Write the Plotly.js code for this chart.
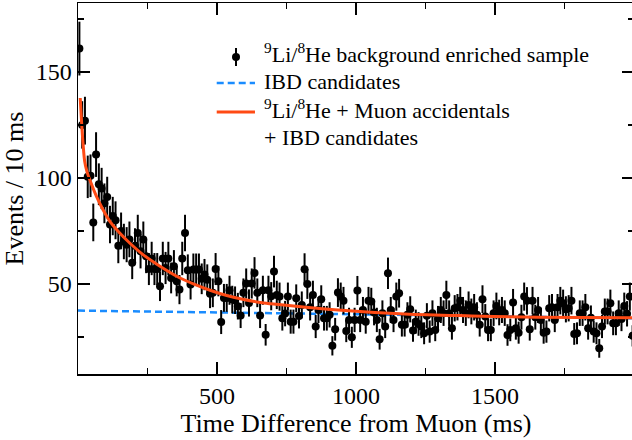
<!DOCTYPE html>
<html>
<head>
<meta charset="utf-8">
<script src="https://cdn.plot.ly/plotly-3.0.1.min.js"></script>
<style>
html,body{margin:0;padding:0;overflow:hidden;background:#fff;}
#chart{width:636px;height:440px;}
</style>
</head>
<body>
<div id="chart"></div>
<script>
// Events per 10 ms bin, bins start at 0 ms (centres 5, 15, ... 1995 ms)
const countsEarly = [161,125,127,100.5,101,79,111,97,95,88,91,78,82,80,68,75,70,68.5,71,60,68,74,65.4,71,63,57,62,57,57];
const countsMid = [48.9,62,57.5,62,52.8,58.3,51.3,47.3,62,74,56.4,49.7,56.8,56.8,56.8,52.4,54.4,52,45.3,45.8,57,51.3,32,43.4,43.4,47,42.6,42.3,39.5,35.1,45.8,50.2,41,50.2,55.2,45.8,35.1,47,26,47,44.2];
const countsLate = [55.8,44.8,44.0,33.8,36.0,44.0,32.2,32.2,43.2,34.9,
  40.1,56.9,50.0,39.0,44.8,29.9,37.7,42.8,33.8,33.8,
  35.4,20.8,28.6,45.9,44.0,42.1,27.8,33.0,24.8,33.0,
  46.9,33.0,37.7,32.2,42.1,41.7,36.5,33.0,23.9,36.2,
  29.9,55.0,37.7,33.0,44.0,45.6,30.7,30.7,35.4,38.0,
  28.0,32.2,31.1,29.9,26.7,35.0,27.5,36.2,28.3,33.8,
  37.7,36.2,44.8,36.2,29.1,38.5,39.0,42.1,37.7,36.2,
  40.1,37.0,39.0,35.4,30.7,42.8,34.6,28.3,28.3,36.2,
  39.6,36.5,37.7,36.2,25.9,28.3,41.2,29.1,27.0,34.3,
  44.0,42.0,28.6,42.1,34.3,37.7,33.0,27.0,27.5,38.5,
  39.0,33.0,39.0,42.1,40.9,38.0,38.5,42.1,26.4,26.7,
  36.2,36.2,39.0,29.1,34.0,27.5,26.7,19.6,29.9,37.0,
  37.0,40.9,31.4,31.4,36.2,33.5,39.6,35.9,44.0,25.5];
const binStart = 5;
const binWidth = 10;

// Fit curve (Li9/He8 + muon accidentals + IBD)
const fitTime = [8,13,18,24,32,42,66,90,114,150,186,234,295,355,415,475,535,596,668,694,935,1175,1416,1656,2000];
const fitValue = [137.7,126,116.5,107.9,103.1,99.2,91.4,85,79.6,74,69.3,63.8,58.3,53.6,50,47,44.5,42.6,41,40.6,37.7,35.8,34.9,34.3,34.0];

// IBD candidates component
const ibdTime = [0,500,1000,1500,2000];
const ibdValue = [37.4,36.6,35.8,34.8,33.8];

const xTicks = [500,1000,1500];
const yTicks = [50,100,150];

const legendLabels = [
  '<sup>9</sup>Li/<sup>8</sup>He background enriched sample',
  'IBD candidates',
  '<sup>9</sup>Li/<sup>8</sup>He + Muon accidentals',
  '+ IBD candidates'
];

const counts = countsEarly.concat(countsMid, countsLate);
const serif = '"Liberation Serif", "Times New Roman", serif';
const blue = '#1a8cff';
const orange = '#ff4a14';

const traces = [
  {
    type:'scatter', mode:'lines', x: ibdTime, y: ibdValue,
    name: legendLabels[1],
    line:{color:blue, width:2.5, dash:'7px,4px'}, hoverinfo:'skip'
  },
  {
    type:'scatter', mode:'markers', x0: binStart, dx: binWidth, y: counts,
    name: legendLabels[0],
    marker:{color:'black', size:8},
    error_y:{type:'sqrt', visible:true, color:'black', thickness:2, width:0}
  },
  {
    type:'scatter', mode:'lines', x: fitTime, y: fitValue, line:{color:orange, width:3, shape:'spline'},
    name: legendLabels[2] + '<br>' + legendLabels[3], hoverinfo:'skip'
  }
];

// legend block drawn in plot-area (paper) fractions
const L = {textX:0.333, rowBottom:[0.825, 0.751, 0.674, 0.602], keyX0:0.2495, keyX1:0.3183, keyXc:0.2842,
           blueY:0.7844, orangeY:0.7062, dotY0:0.8437, dotY1:0.8652, dotX0:0.277, dotX1:0.2914, barY0:0.8302, barY1:0.8787};

const annotations = legendLabels.map((t,i)=>({
  xref:'paper', yref:'paper', x:L.textX, y:L.rowBottom[i], xanchor:'left', yanchor:'bottom',
  text:t, showarrow:false, borderpad:0, font:{family:serif, size:22, color:'black'}
}));

const shapes = [
  {type:'line', xref:'paper', yref:'paper', x0:L.keyX0, x1:L.keyX1, y0:L.blueY, y1:L.blueY, line:{color:blue, width:2.5, dash:'7px,4px'}},
  {type:'line', xref:'paper', yref:'paper', x0:L.keyX0, x1:L.keyX1, y0:L.orangeY, y1:L.orangeY, line:{color:orange, width:3}},
  {type:'line', xref:'paper', yref:'paper', x0:L.keyXc, x1:L.keyXc, y0:L.barY0, y1:L.barY1, line:{color:'black', width:2}},
  {type:'circle', xref:'paper', yref:'paper', x0:L.dotX0, x1:L.dotX1, y0:L.dotY0, y1:L.dotY1, fillcolor:'black', line:{color:'black', width:0}}
];

const axisCommon = {
  showline:true, mirror:'ticks', linecolor:'black', linewidth:1.5,
  ticks:'inside', ticklen:12, tickwidth:1.5, tickcolor:'black',
  showgrid:false, zeroline:false,
  tickfont:{family:serif, size:24, color:'black'},
  tickmode:'array'
};

const layout = {
  width:636, height:440,
  margin:{l:78, r:2, t:3, b:66},
  paper_bgcolor:'white', plot_bgcolor:'white',
  font:{family:serif, color:'black'},
  showlegend:false,
  annotations: annotations,
  shapes: shapes,
  xaxis: Object.assign({}, axisCommon, {
    range:[0,2000], tickvals:xTicks, ticktext:xTicks.map(String),
    minor:{dtick:250, tick0:0, ticks:'inside', ticklen:6, tickwidth:1.5, tickcolor:'black'},
    title:{text:'Time Difference from Muon (ms)', font:{family:serif, size:26, color:'black'}, standoff:0}
  }),
  yaxis: Object.assign({}, axisCommon, {
    range:[7.5,182.5], tickvals:yTicks, ticktext:yTicks.map(String),
    minor:{dtick:25, tick0:0, ticks:'inside', ticklen:6, tickwidth:1.5, tickcolor:'black'},
    title:{text:'Events / 10 ms', font:{family:serif, size:26, color:'black'}, standoff:6}
  })
};

Plotly.newPlot('chart', traces, layout, {staticPlot:true, displayModeBar:false});
</script>
</body>
</html>
